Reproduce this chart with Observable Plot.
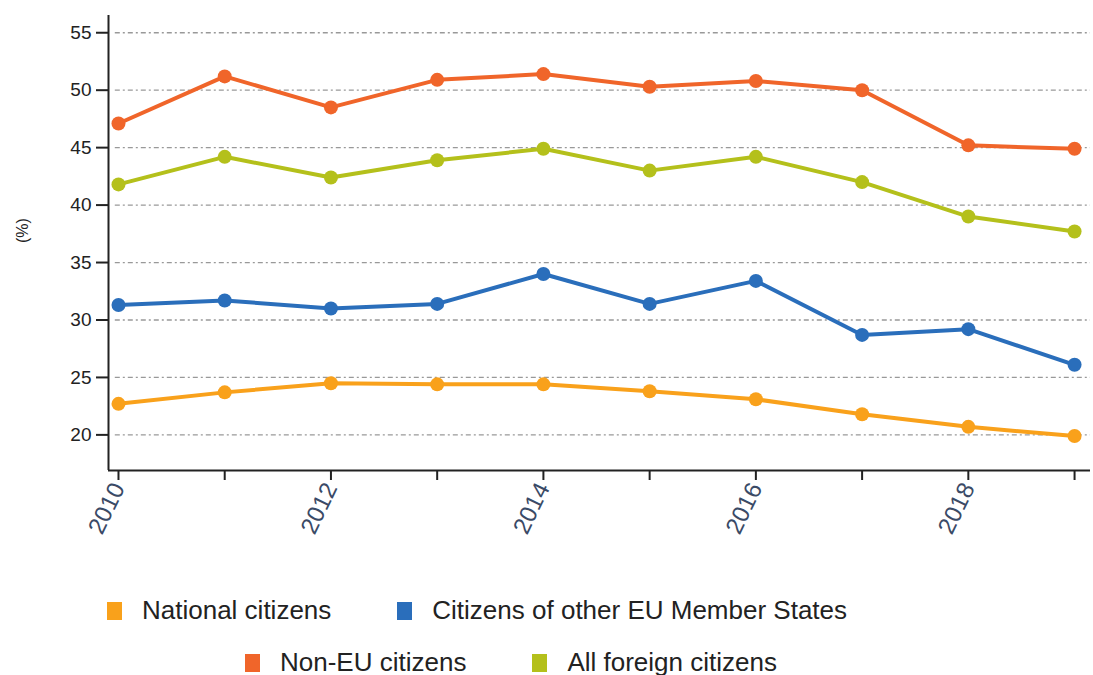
<!DOCTYPE html>
<html>
<head>
<meta charset="utf-8">
<script src="https://cdn.jsdelivr.net/npm/d3@7"></script>
<script src="https://cdn.jsdelivr.net/npm/@observablehq/plot@0.6"></script>
<style>
  html, body { margin: 0; padding: 0; background: #fff; }
  body { width: 1093px; height: 675px; overflow: hidden; font-family: "Liberation Sans", Arial, sans-serif; }
  #legend { position: relative; height: 95px; }
  .row { position: absolute; display: flex; align-items: center; font-size: 26px; color: #222; white-space: nowrap; }
  .item { display: flex; align-items: center; margin-right: 66px; }
  .sw { width: 15px; height: 18px; margin-right: 20px; }
</style>
</head>
<body>
<div id="chart"></div>
<div id="legend"></div>
<script>
const years = [2010, 2011, 2012, 2013, 2014, 2015, 2016, 2017, 2018, 2019];
const seriesNames = ["National citizens", "Citizens of other EU Member States", "Non-EU citizens", "All foreign citizens"];
const seriesColors = ["#f9a11b", "#2a6ebb", "#f0652a", "#b4c01b"];
const national = [22.7, 23.7, 24.5, 24.4, 24.4, 23.8, 23.1, 21.8, 20.7, 19.9];
const otherEU = [31.3, 31.7, 31.0, 31.4, 34.0, 31.4, 33.4, 28.7, 29.2, 26.1];
const nonEU = [47.1, 51.2, 48.5, 50.9, 51.4, 50.3, 50.8, 50.0, 45.2, 44.9];
const allForeign = [41.8, 44.2, 42.4, 43.9, 44.9, 43.0, 44.2, 42.0, 39.0, 37.7];
const yTicks = [20, 25, 30, 35, 40, 45, 50, 55];
const xLabelYears = [2010, 2012, 2014, 2016, 2018];

const valuesBySeries = [national, otherEU, nonEU, allForeign];
const data = [];
seriesNames.forEach((s, i) => years.forEach((y, j) => data.push({series: s, year: y, value: valuesBySeries[i][j]})));

const xDomain = [2009.906, 2019.15];
const yDomain = [16.9, 56.5];

const chart = Plot.plot({
  width: 1093,
  height: 580,
  marginTop: 15,
  marginBottom: 110,
  marginLeft: 108,
  marginRight: 3,
  style: {fontFamily: "Liberation Sans, Arial, sans-serif", background: "#fff"},
  x: {type: "linear", domain: xDomain},
  y: {domain: yDomain},
  color: {domain: seriesNames, range: seriesColors},
  marks: [
    Plot.gridY(yTicks, {x1: 2009.97, x2: xDomain[1], stroke: "#999", strokeOpacity: 1, strokeWidth: 1.3, strokeDasharray: "5,3,2,3"}),
    Plot.axisY(yTicks, {tickSize: 12, tickPadding: 5, fontSize: 19, fill: "#222", stroke: "#222", strokeWidth: 2, label: null}),
    Plot.text(["(%)"], {frameAnchor: "left", dx: -86, rotate: -90, fontSize: 16, fill: "#222"}),
    Plot.axisX(years, {tickSize: 10, strokeWidth: 2, stroke: "#222", tickFormat: d => xLabelYears.includes(d) ? String(d) : "", tickRotate: -64, textAnchor: "end", fontSize: 24, fill: "#3a4a66", tickPadding: 4, label: null}),
    Plot.ruleX([xDomain[0]], {stroke: "#222", strokeWidth: 2}),
    Plot.ruleY([yDomain[0]], {stroke: "#222", strokeWidth: 2}),
    Plot.line(data, {x: "year", y: "value", z: "series", stroke: "series", strokeWidth: 4}),
    Plot.dot(data, {x: "year", y: "value", fill: "series", r: 7})
  ]
});
document.getElementById("chart").appendChild(chart);

const legend = document.getElementById("legend");
const rows = [[0, 1], [2, 3]];
const rowLeft = [107, 245];
const rowTop = [15, 67];
rows.forEach((idxs, r) => {
  const row = document.createElement("div");
  row.className = "row";
  row.style.left = rowLeft[r] + "px";
  row.style.top = rowTop[r] + "px";
  idxs.forEach(i => {
    const it = document.createElement("div");
    it.className = "item";
    const sw = document.createElement("div");
    sw.className = "sw";
    sw.style.background = seriesColors[i];
    const tx = document.createElement("span");
    tx.textContent = seriesNames[i];
    it.appendChild(sw); it.appendChild(tx);
    row.appendChild(it);
  });
  legend.appendChild(row);
});
</script>
</body>
</html>
